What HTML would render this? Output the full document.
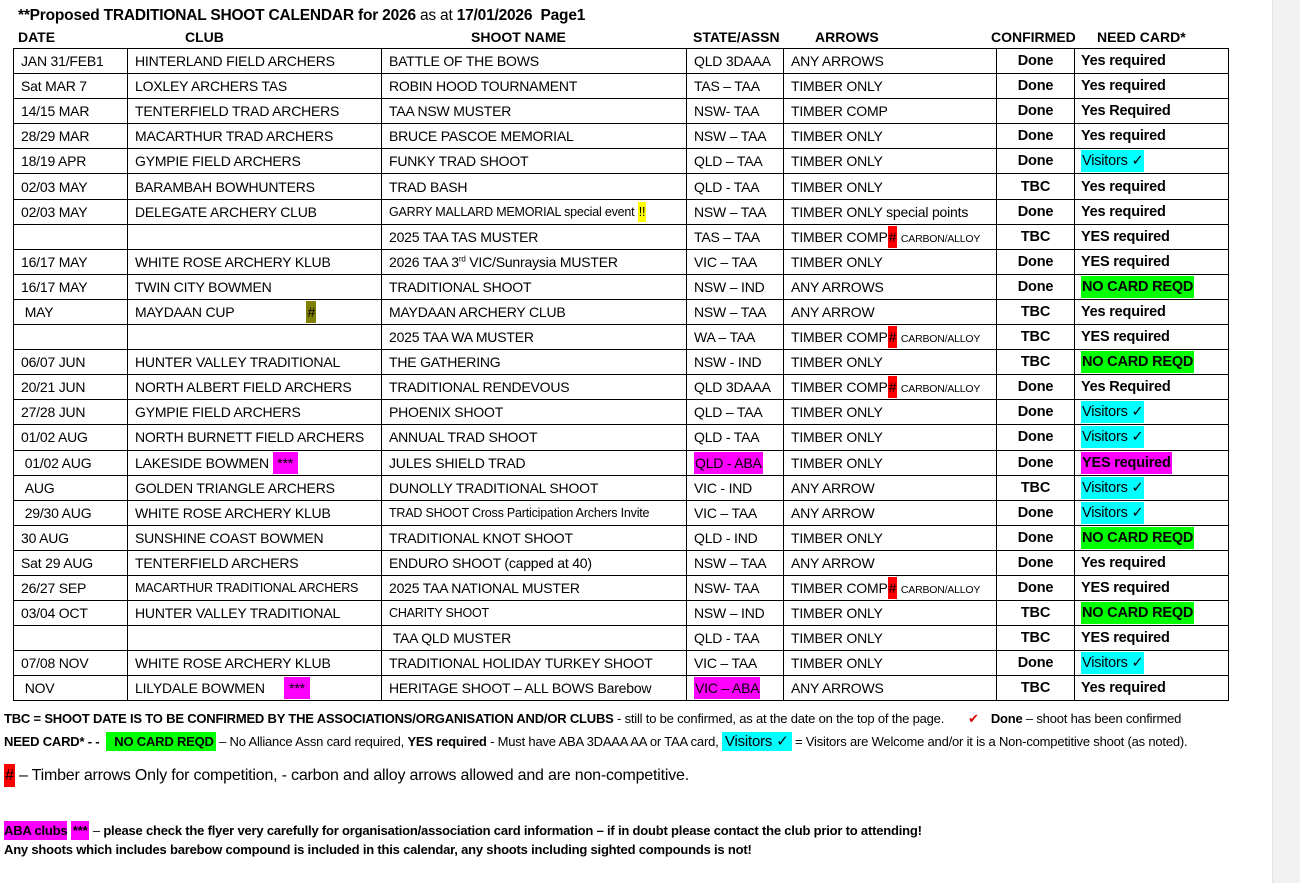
<!DOCTYPE html>
<html><head><meta charset="utf-8"><style>
*{margin:0;padding:0;box-sizing:border-box}
body{width:1300px;height:883px;background:#fff;font-family:"Liberation Sans",Arial,sans-serif;color:#000;position:relative;overflow:hidden}
.sb{position:absolute;left:1272px;top:0;width:28px;height:883px;background:#f1f1f1;border-left:1px solid #e4e4e4}
.t{position:absolute;left:18px;top:7px;font-size:15.5px;font-weight:bold;letter-spacing:-0.2px}
.t span{font-weight:normal}
.h{position:absolute;top:29px;font-size:14px;font-weight:bold}
table{position:absolute;left:13px;top:48px;border-collapse:collapse;table-layout:fixed;width:1215px}
td{border:1px solid #000;height:25.1px;font-size:14px;padding:0 0 0 7px;white-space:nowrap;overflow:hidden;letter-spacing:-0.2px;vertical-align:middle}
td.c{text-align:center;font-weight:bold;padding:0;font-size:14.5px}
td.n{font-weight:bold;padding-left:6px;font-size:14.5px}
.sm{font-size:12.5px}
.xs{font-size:10.5px}
.g,.cy,.m,.r,.y,.ol{padding:3px 1px}
.g{background:#00ff00}
.cy{background:#00ffff;font-weight:normal}
.m{background:#ff00ff}
.r{background:#ff0000}
.y{background:#ffff00}
.ol{background:#808000}
.f{position:absolute;left:4px;font-size:13px;letter-spacing:-0.2px;white-space:nowrap}
</style></head><body>
<div class="sb"></div>
<div class="t">**Proposed TRADITIONAL SHOOT CALENDAR for 2026 <span>as at</span> 17/01/2026&nbsp; Page1</div>
<div class="h" style="left:18px">DATE</div>
<div class="h" style="left:185px">CLUB</div>
<div class="h" style="left:471px">SHOOT NAME</div>
<div class="h" style="left:693px">STATE/ASSN</div>
<div class="h" style="left:815px">ARROWS</div>
<div class="h" style="left:991px">CONFIRMED</div>
<div class="h" style="left:1097px">NEED CARD*</div>
<table>
<colgroup><col style="width:114px"><col style="width:254px"><col style="width:305px"><col style="width:97px"><col style="width:213px"><col style="width:78px"><col style="width:154px"></colgroup>
<tr><td>JAN 31/FEB1</td><td>HINTERLAND FIELD ARCHERS</td><td>BATTLE OF THE BOWS</td><td>QLD 3DAAA</td><td>ANY ARROWS</td><td class="c">Done</td><td class="n">Yes required</td></tr>
<tr><td>Sat MAR 7</td><td>LOXLEY ARCHERS TAS</td><td>ROBIN HOOD TOURNAMENT</td><td>TAS – TAA</td><td>TIMBER ONLY</td><td class="c">Done</td><td class="n">Yes required</td></tr>
<tr><td>14/15 MAR</td><td>TENTERFIELD TRAD ARCHERS</td><td>TAA NSW MUSTER</td><td>NSW- TAA</td><td>TIMBER COMP</td><td class="c">Done</td><td class="n">Yes Required</td></tr>
<tr><td>28/29 MAR</td><td>MACARTHUR TRAD ARCHERS</td><td>BRUCE PASCOE MEMORIAL</td><td>NSW – TAA</td><td>TIMBER ONLY</td><td class="c">Done</td><td class="n">Yes required</td></tr>
<tr><td>18/19 APR</td><td>GYMPIE FIELD ARCHERS</td><td>FUNKY TRAD SHOOT</td><td>QLD – TAA</td><td>TIMBER ONLY</td><td class="c">Done</td><td class="n"><span class="cy">Visitors ✓</span></td></tr>
<tr><td>02/03 MAY</td><td>BARAMBAH BOWHUNTERS</td><td>TRAD BASH</td><td>QLD - TAA</td><td>TIMBER ONLY</td><td class="c">TBC</td><td class="n">Yes required</td></tr>
<tr><td>02/03 MAY</td><td>DELEGATE ARCHERY CLUB</td><td class="sm">GARRY MALLARD MEMORIAL special event <span class="y">!!</span></td><td>NSW – TAA</td><td>TIMBER ONLY special points</td><td class="c">Done</td><td class="n">Yes required</td></tr>
<tr><td></td><td></td><td>2025 TAA TAS MUSTER</td><td>TAS – TAA</td><td>TIMBER COMP<span class="r">#</span> <span class="xs">CARBON/ALLOY</span></td><td class="c">TBC</td><td class="n">YES required</td></tr>
<tr><td>16/17 MAY</td><td>WHITE ROSE ARCHERY KLUB</td><td>2026 TAA 3<sup style="font-size:8px">rd</sup> VIC/Sunraysia MUSTER</td><td>VIC – TAA</td><td>TIMBER ONLY</td><td class="c">Done</td><td class="n">YES required</td></tr>
<tr><td>16/17 MAY</td><td>TWIN CITY BOWMEN</td><td>TRADITIONAL SHOOT</td><td>NSW – IND</td><td>ANY ARROWS</td><td class="c">Done</td><td class="n"><span class="g">NO CARD REQD</span></td></tr>
<tr><td>&nbsp;MAY</td><td>MAYDAAN CUP<span style="display:inline-block;width:72px"></span><span class="ol">#</span></td><td>MAYDAAN ARCHERY CLUB</td><td>NSW – TAA</td><td>ANY ARROW</td><td class="c">TBC</td><td class="n">Yes required</td></tr>
<tr><td></td><td></td><td>2025 TAA WA MUSTER</td><td>WA – TAA</td><td>TIMBER COMP<span class="r">#</span> <span class="xs">CARBON/ALLOY</span></td><td class="c">TBC</td><td class="n">YES required</td></tr>
<tr><td>06/07 JUN</td><td>HUNTER VALLEY TRADITIONAL</td><td>THE GATHERING</td><td>NSW - IND</td><td>TIMBER ONLY</td><td class="c">TBC</td><td class="n"><span class="g">NO CARD REQD</span></td></tr>
<tr><td>20/21 JUN</td><td>NORTH ALBERT FIELD ARCHERS</td><td>TRADITIONAL RENDEVOUS</td><td>QLD 3DAAA</td><td>TIMBER COMP<span class="r">#</span> <span class="xs">CARBON/ALLOY</span></td><td class="c">Done</td><td class="n">Yes Required</td></tr>
<tr><td>27/28 JUN</td><td>GYMPIE FIELD ARCHERS</td><td>PHOENIX SHOOT</td><td>QLD – TAA</td><td>TIMBER ONLY</td><td class="c">Done</td><td class="n"><span class="cy">Visitors ✓</span></td></tr>
<tr><td>01/02 AUG</td><td>NORTH BURNETT FIELD ARCHERS</td><td>ANNUAL TRAD SHOOT</td><td>QLD - TAA</td><td>TIMBER ONLY</td><td class="c">Done</td><td class="n"><span class="cy">Visitors ✓</span></td></tr>
<tr><td>&nbsp;01/02 AUG</td><td>LAKESIDE BOWMEN <span class="m">&nbsp;***&nbsp;</span></td><td>JULES SHIELD TRAD</td><td><span class="m">QLD - ABA</span></td><td>TIMBER ONLY</td><td class="c">Done</td><td class="n"><span class="m">YES required</span></td></tr>
<tr><td>&nbsp;AUG</td><td>GOLDEN TRIANGLE ARCHERS</td><td>DUNOLLY TRADITIONAL SHOOT</td><td>VIC - IND</td><td>ANY ARROW</td><td class="c">TBC</td><td class="n"><span class="cy">Visitors ✓</span></td></tr>
<tr><td>&nbsp;29/30 AUG</td><td>WHITE ROSE ARCHERY KLUB</td><td class="sm">TRAD SHOOT Cross Participation Archers Invite</td><td>VIC – TAA</td><td>ANY ARROW</td><td class="c">Done</td><td class="n"><span class="cy">Visitors ✓</span></td></tr>
<tr><td>30 AUG</td><td>SUNSHINE COAST BOWMEN</td><td>TRADITIONAL KNOT SHOOT</td><td>QLD - IND</td><td>TIMBER ONLY</td><td class="c">Done</td><td class="n"><span class="g">NO CARD REQD</span></td></tr>
<tr><td>Sat 29 AUG</td><td>TENTERFIELD ARCHERS</td><td>ENDURO SHOOT (capped at 40)</td><td>NSW – TAA</td><td>ANY ARROW</td><td class="c">Done</td><td class="n">Yes required</td></tr>
<tr><td>26/27 SEP</td><td class="sm">MACARTHUR TRADITIONAL ARCHERS</td><td>2025 TAA NATIONAL MUSTER</td><td>NSW- TAA</td><td>TIMBER COMP<span class="r">#</span> <span class="xs">CARBON/ALLOY</span></td><td class="c">Done</td><td class="n">YES required</td></tr>
<tr><td>03/04 OCT</td><td>HUNTER VALLEY TRADITIONAL</td><td class="sm">CHARITY SHOOT</td><td>NSW – IND</td><td>TIMBER ONLY</td><td class="c">TBC</td><td class="n"><span class="g">NO CARD REQD</span></td></tr>
<tr><td></td><td></td><td>&nbsp;TAA QLD MUSTER</td><td>QLD - TAA</td><td>TIMBER ONLY</td><td class="c">TBC</td><td class="n">YES required</td></tr>
<tr><td>07/08 NOV</td><td>WHITE ROSE ARCHERY KLUB</td><td>TRADITIONAL HOLIDAY TURKEY SHOOT</td><td>VIC – TAA</td><td>TIMBER ONLY</td><td class="c">Done</td><td class="n"><span class="cy">Visitors ✓</span></td></tr>
<tr><td>&nbsp;NOV</td><td>LILYDALE BOWMEN <span style="display:inline-block;width:16px"></span><span class="m">&nbsp;***&nbsp;</span></td><td>HERITAGE SHOOT – ALL BOWS Barebow</td><td><span class="m">VIC – ABA</span></td><td>ANY ARROWS</td><td class="c">TBC</td><td class="n">Yes required</td></tr>
</table>
<div class="f" style="top:711px"><b>TBC = SHOOT DATE IS TO BE CONFIRMED BY THE ASSOCIATIONS/ORGANISATION AND/OR CLUBS</b> - still to be confirmed, as at the date on the top of the page.<span style="display:inline-block;width:24px"></span><span style="color:#d00">✔</span><span style="display:inline-block;width:12px"></span><b>Done</b> – shoot has been confirmed</div>
<div class="f" style="top:732px"><b>NEED CARD* - -</b> &nbsp;<span class="g" style="padding:2px 2px 2px 8px"><b>NO CARD REQD</b></span> – No Alliance Assn card required, <b>YES required</b> - Must have ABA 3DAAA AA or TAA card, <span class="cy" style="font-size:15px;padding:1px 3px">Visitors ✓</span> = Visitors are Welcome and/or it is a Non-competitive shoot (as noted).</div>
<div class="f" style="top:767px;font-size:16px"><span class="r">#</span> – Timber arrows Only for competition, - carbon and alloy arrows allowed and are non-competitive.</div>
<div class="f" style="top:823px"><b><span class="m" style="padding:2px 0">ABA clubs</span> <span class="m" style="padding:2px 2px">***</span></b> – <b>please check the flyer very carefully for organisation/association card information – if in doubt please contact the club prior to attending!</b></div>
<div class="f" style="top:842px"><b>Any shoots which includes barebow compound is included in this calendar, any shoots including sighted compounds is not!</b></div>
</body></html>
